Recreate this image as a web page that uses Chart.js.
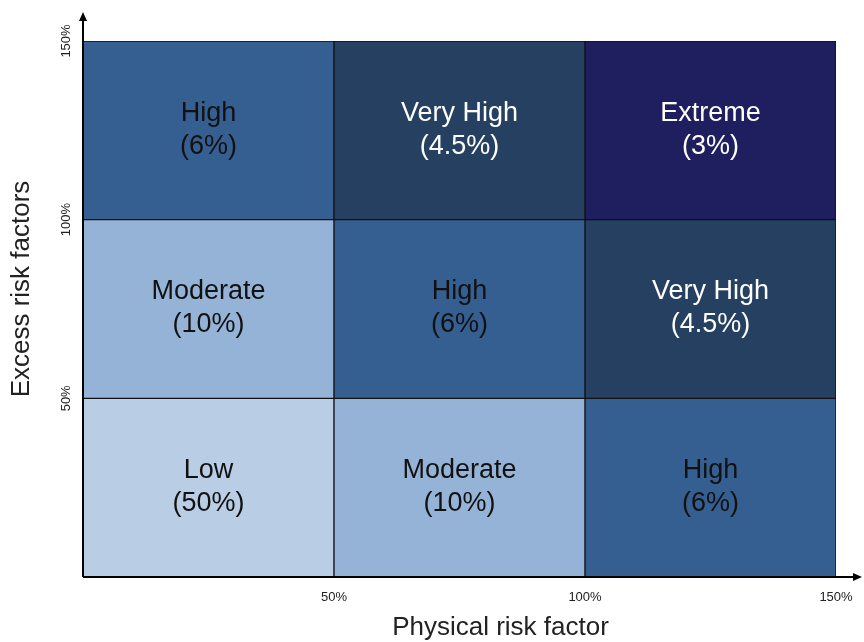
<!DOCTYPE html>
<html>
<head>
<meta charset="utf-8">
<script src="https://cdn.jsdelivr.net/npm/chart.js@4.4.1/dist/chart.umd.min.js"></script>
<style>
  html, body { margin: 0; padding: 0; background: #fff; }
  #wrap { width: 864px; height: 642px; }
</style>
</head>
<body>
<div id="wrap"><canvas id="chart"></canvas></div>
<script>
// column centres on the physical risk axis (%)
const xCenters = [25, 75, 125];
// bands on the excess risk axis (%), bottom to top
const yBands = [[0, 50], [50, 100], [100, 150]];
// one row per band, one entry per column
const riskLevels = [
    ['Low', 'Moderate', 'High'],
    ['Moderate', 'High', 'Very High'],
    ['High', 'Very High', 'Extreme'],
];
const riskShares = [
    [50, 10, 6],
    [10, 6, 4.5],
    [6, 4.5, 3],
];
const tickValues = [50, 100, 150];
const xTitle = 'Physical risk factor';
const yTitle = 'Excess risk factors';

const levelColors = {
    'Low': '#b9cde5',
    'Moderate': '#95b3d7',
    'High': '#365f91',
    'Very High': '#254061',
    'Extreme': '#1f1f5f',
};
const levelText = {
    'Low': '#111',
    'Moderate': '#111',
    'High': '#111',
    'Very High': '#fff',
    'Extreme': '#fff',
};

const FONT = "'Liberation Sans', Arial, sans-serif";

const datasets = yBands.map((band, r) => ({
    label: 'Band ' + r,
    data: xCenters.map(x => ({ x, y: band })),
    backgroundColor: riskLevels[r].map(l => levelColors[l]),
    borderColor: '#111',
    borderWidth: 1,
    borderSkipped: false,
    grouped: false,
    barPercentage: 1,
    categoryPercentage: 1,
}));

const cellLabels = {
    id: 'cellLabels',
    afterDatasetsDraw(chart) {
        const { ctx } = chart;
        ctx.save();
        ctx.font = '27px ' + FONT;
        ctx.textAlign = 'center';
        ctx.textBaseline = 'middle';
        chart.data.datasets.forEach((ds, r) => {
            chart.getDatasetMeta(r).data.forEach((el, c) => {
                const p = el.getCenterPoint();
                const level = riskLevels[r][c];
                ctx.fillStyle = levelText[level];
                ctx.fillText(level, p.x, p.y - 17);
                ctx.fillText('(' + riskShares[r][c] + '%)', p.x, p.y + 16);
            });
        });
        ctx.restore();
    },
};

// axis lines with arrow heads, plus the two axis titles (set off-centre as in the source)
const arrowAxes = {
    id: 'arrowAxes',
    afterDraw(chart) {
        const { ctx, chartArea: a } = chart;
        const top = a.top - 29, right = a.right + 26;
        ctx.save();
        ctx.strokeStyle = '#000';
        ctx.fillStyle = '#000';
        ctx.lineWidth = 2;
        ctx.beginPath();
        ctx.moveTo(a.left, a.bottom);
        ctx.lineTo(a.left, top + 6);
        ctx.moveTo(a.left, a.bottom);
        ctx.lineTo(right - 6, a.bottom);
        ctx.stroke();
        ctx.beginPath();
        ctx.moveTo(a.left, top);
        ctx.lineTo(a.left - 4, top + 9);
        ctx.lineTo(a.left + 4, top + 9);
        ctx.closePath();
        ctx.fill();
        ctx.beginPath();
        ctx.moveTo(right, a.bottom);
        ctx.lineTo(right - 9, a.bottom - 4);
        ctx.lineTo(right - 9, a.bottom + 4);
        ctx.closePath();
        ctx.fill();

        ctx.fillStyle = '#222';
        ctx.font = '26px ' + FONT;
        ctx.textAlign = 'center';
        ctx.textBaseline = 'middle';
        ctx.fillText(xTitle, (a.left + a.right) / 2 + 41, 628);
        ctx.translate(22, (a.top + a.bottom) / 2 - 20);
        ctx.rotate(-Math.PI / 2);
        ctx.fillText(yTitle, 0, 0);
        ctx.restore();
    },
};

new Chart(document.getElementById('chart'), {
    type: 'bar',
    data: { datasets },
    options: {
        responsive: true,
        maintainAspectRatio: false,
        animation: false,
        layout: { padding: { top: 41, right: 28, left: 0, bottom: 0 } },
        plugins: {
            legend: { display: false },
            tooltip: { enabled: false },
        },
        scales: {
            x: {
                type: 'linear',
                min: 0,
                max: 150,
                offset: false,
                grid: { display: false, offset: false },
                border: { display: false },
                afterBuildTicks: s => { s.ticks = tickValues.map(v => ({ value: v })); },
                afterFit: s => { s.height = 65; },
                ticks: {
                    padding: 5,
                    color: '#222',
                    font: { size: 13, family: FONT },
                    callback: v => v + '%',
                },
            },
            y: {
                type: 'linear',
                min: 0,
                max: 150,
                grid: { display: false },
                border: { display: false },
                afterBuildTicks: s => { s.ticks = tickValues.map(v => ({ value: v })); },
                afterFit: s => { s.width = 83; },
                ticks: {
                    padding: -8,
                    minRotation: 90,
                    maxRotation: 90,
                    crossAlign: 'center',
                    color: '#222',
                    font: { size: 13, family: FONT },
                    callback: v => v + '%',
                },
            },
        },
    },
    plugins: [cellLabels, arrowAxes],
});
</script>
</body>
</html>
